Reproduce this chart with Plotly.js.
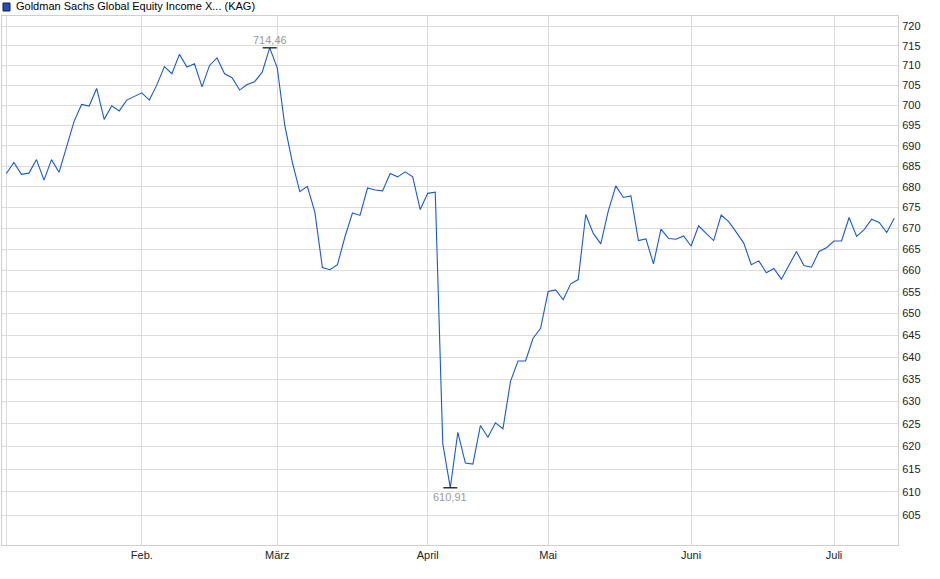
<!DOCTYPE html>
<html>
<head>
<meta charset="utf-8">
<script src="https://cdn.plot.ly/plotly-3.0.1.min.js"></script>
<style>
  html, body { margin: 0; padding: 0; background: #fff; }
  #chart { width: 940px; height: 579px; }
</style>
</head>
<body>
<div id="chart"></div>
<script>
var seriesName = 'Goldman Sachs Global Equity Income X... (KAG)';

// Kurswerte (ein Wert pro Handelstag, Jan. bis Juli)
var prices = [
  683.2, 685.9, 683.0, 683.3, 686.6, 681.6, 686.6, 683.5, 689.7, 696.0,
  700.2, 699.8, 704.2, 696.5, 699.9, 698.6, 701.3, 702.3, 703.1, 701.3,
  705.1, 709.7, 707.9, 712.8, 709.6, 710.4, 704.6, 710.0, 711.9, 707.9,
  706.9, 703.8, 705.2, 705.9, 708.3, 714.46, 709.4, 695.0, 686.0, 678.8,
  680.1, 673.9, 660.7, 660.2, 661.4, 668.0, 673.7, 673.1, 679.7, 679.2,
  679.0, 683.2, 682.4, 683.6, 682.4, 674.5, 678.4, 678.7, 620.6, 610.91,
  623.1, 616.3, 616.1, 624.6, 622.0, 625.2, 623.9, 634.5, 639.1, 639.1,
  644.3, 646.6, 655.1, 655.5, 653.2, 656.9, 657.9, 673.3, 668.8, 666.3,
  674.2, 680.2, 677.4, 677.8, 667.1, 667.5, 661.6, 669.8, 667.6, 667.4,
  668.2, 665.8, 670.6, 668.8, 667.1, 673.2, 671.6, 669.1, 666.5, 661.4,
  662.3, 659.5, 660.5, 658.0, 661.2, 664.5, 661.2, 660.8, 664.5, 665.4,
  667.0, 667.0, 672.6, 668.1, 669.7, 672.2, 671.4, 669.0, 672.4
];

// erster Handelstag je Monat (Index in prices)
var monthTickIdx = [0, 18, 36, 56, 72, 91, 110];
var monthLabels = ['', 'Feb.', 'März', 'April', 'Mai', 'Juni', 'Juli'];

var yTickVals = [605, 610, 615, 620, 625, 630, 635, 640, 645, 650, 655, 660,
  665, 670, 675, 680, 685, 690, 695, 700, 705, 710, 715, 720];

var days = prices.map(function (v, i) { return i; });

var maxVal = Math.max.apply(null, prices);
var minVal = Math.min.apply(null, prices);
var iMax = prices.indexOf(maxVal);
var iMin = prices.indexOf(minVal);

var fmt = function (v) { return v.toFixed(2).replace('.', ','); };

var lineColor = '#1c5ac6';
var gridColor = '#dcdcdc';
var font = 'Liberation Sans, Arial, sans-serif';

var trace1 = {
  x: days,
  y: prices,
  type: 'scatter',
  mode: 'lines',
  line: { color: lineColor, width: 1.1 },
  hoverinfo: 'y',
  showlegend: false
};

var caps = {
  x: [iMax, iMin],
  y: [maxVal, minVal],
  type: 'scatter',
  mode: 'markers',
  marker: {
    symbol: 'line-ew',
    size: 10,
    line: { color: '#000', width: 1.2 }
  },
  hoverinfo: 'skip',
  showlegend: false
};

var data = [trace1, caps];

var layout = {
  width: 940,
  height: 579,
  margin: { l: 2, r: 42, t: 16, b: 34 },
  paper_bgcolor: '#fff',
  plot_bgcolor: '#fff',
  separators: ',.',
  font: { family: font, size: 11, color: '#222' },
  xaxis: {
    range: [-0.58, 118.5],
    tickmode: 'array',
    tickvals: monthTickIdx,
    ticktext: monthLabels,
    showgrid: true,
    gridcolor: gridColor,
    gridwidth: 1,
    showline: true,
    linecolor: '#cfcfcf',
    mirror: true,
    zeroline: false,
    ticks: '',
    tickfont: { family: font, size: 11, color: '#222' }
  },
  yaxis: {
    type: 'log',
    side: 'right',
    range: [Math.log10(598.6), Math.log10(722.6)],
    tickmode: 'array',
    tickvals: yTickVals,
    ticktext: yTickVals.map(String),
    showgrid: true,
    gridcolor: gridColor,
    gridwidth: 1,
    showline: true,
    linecolor: '#cfcfcf',
    mirror: true,
    zeroline: false,
    ticks: '',
    ticklabelstandoff: 1,
    tickfont: { family: font, size: 11, color: '#222' }
  },
  shapes: [
    {
      type: 'rect',
      xref: 'paper', yref: 'paper',
      xsizemode: 'pixel', ysizemode: 'pixel',
      xanchor: 0, yanchor: 1,
      x0: 1, x1: 8, y0: 5, y1: 13,
      fillcolor: '#1f4fbf',
      line: { color: '#1a1a40', width: 1 }
    }
  ],
  annotations: [
    {
      xref: 'paper', yref: 'paper',
      x: 0, y: 1,
      xanchor: 'left', yanchor: 'middle',
      xshift: 12, yshift: 10,
      text: seriesName,
      showarrow: false,
      font: { family: font, size: 11, color: '#000' }
    },
    {
      x: iMax, y: Math.log10(maxVal),
      xanchor: 'center', yanchor: 'bottom',
      yshift: 0,
      text: fmt(maxVal),
      showarrow: false,
      font: { family: font, size: 11, color: '#9a9a9a' }
    },
    {
      x: iMin, y: Math.log10(minVal),
      xanchor: 'center', yanchor: 'top',
      yshift: -1,
      text: fmt(minVal),
      showarrow: false,
      font: { family: font, size: 11, color: '#9a9a9a' }
    }
  ]
};

Plotly.newPlot('chart', data, layout, { displayModeBar: false, staticPlot: true });
</script>
</body>
</html>
